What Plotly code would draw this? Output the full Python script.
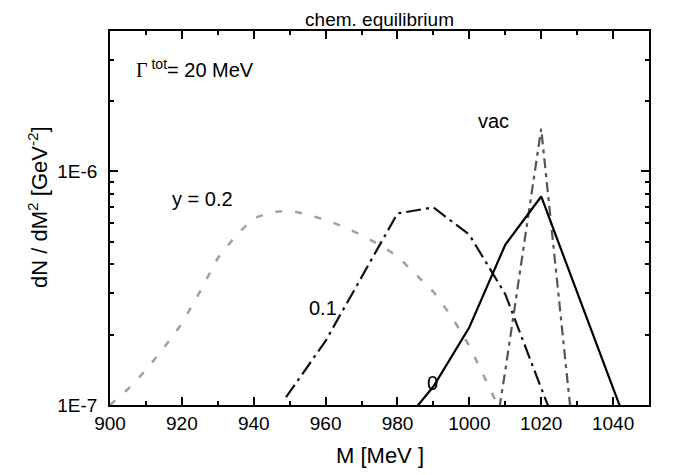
import plotly.graph_objects as go

# curve y = 0 (solid)
m_0 = [980, 990, 1000, 1010, 1020, 1030, 1040, 1050]
dn_0 = [7.8e-8, 1.2e-7, 2.15e-7, 4.85e-7, 7.8e-7, 3.05e-7, 1.2e-7, 4.6e-8]

# curve y = 0.1 (dash-dot)
m_01 = [949, 960, 980, 990, 1000, 1010, 1020, 1030]
dn_01 = [1.08e-7, 1.88e-7, 6.6e-7, 7.0e-7, 5.35e-7, 2.98e-7, 1.18e-7, 4.8e-8]

# curve y = 0.2 (gray short dash)
m_02 = [900, 905, 910, 915, 920, 925, 930, 935, 940, 945, 950, 955, 960,
        965, 970, 975, 980, 985, 990, 995, 1000, 1005, 1010]
dn_02 = [1.0e-7, 1.17e-7, 1.41e-7, 1.76e-7, 2.23e-7, 3.05e-7, 4.25e-7, 5.3e-7,
         6.3e-7, 6.68e-7, 6.79e-7, 6.53e-7, 6.19e-7, 5.79e-7, 5.33e-7, 4.85e-7,
         4.33e-7, 3.65e-7, 3.05e-7, 2.4e-7, 1.79e-7, 1.24e-7, 8.5e-8]

# vacuum
m_vac = [1000, 1010, 1020, 1030]
dn_vac = [1.5e-8, 1.4e-7, 1.52e-6, 5.1e-8]

xtick_major = [900, 920, 940, 960, 980, 1000, 1020, 1040]
xtick_minor = [910, 930, 950, 970, 990, 1010, 1030, 1050]
ytick_major = [1e-7, 1e-6]
ytick_labels = ["1E-7", "1E-6"]
ytick_minor = [2e-7, 3e-7, 4e-7, 5e-7, 6e-7, 7e-7, 8e-7, 9e-7, 2e-6, 3e-6]

FONT = "Arial, Liberation Sans, sans-serif"

fig = go.Figure()

fig.add_trace(go.Scatter(x=m_02, y=dn_02, mode="lines",
                         line=dict(color="#a0a0a0", width=2.5, dash="7px,13px")))
fig.add_trace(go.Scatter(x=m_01, y=dn_01, mode="lines",
                         line=dict(color="#111111", width=2.2, dash="15px,5px,3px,5px")))
fig.add_trace(go.Scatter(x=m_vac, y=dn_vac, mode="lines",
                         line=dict(color="#555555", width=2.2, dash="10px,5px,4px,5px")))
fig.add_trace(go.Scatter(x=m_0, y=dn_0, mode="lines",
                         line=dict(color="black", width=2.2)))

axis_common = dict(
    showline=True, linecolor="black", linewidth=1.5, mirror="allticks",
    ticks="inside", ticklen=8, tickwidth=1.5, tickcolor="black",
    showgrid=False, zeroline=False,
    tickfont=dict(family=FONT, size=19, color="black"),
)

fig.update_xaxes(range=[900, 1050], tickmode="array", tickvals=xtick_major,
                 minor=dict(tickmode="array", tickvals=xtick_minor, ticks="inside",
                            ticklen=4, tickwidth=1.5, tickcolor="black", showgrid=False),
                 **axis_common)
fig.update_yaxes(type="log", range=[-7, -5.4], tickmode="array",
                 tickvals=ytick_major, ticktext=ytick_labels, ticklabelstandoff=7,
                 minor=dict(tickmode="array", tickvals=ytick_minor, ticks="inside",
                            ticklen=4, tickwidth=1.5, tickcolor="black", showgrid=False),
                 **axis_common)

def label(text, x, y, size=20, xanchor="center", **kw):
    fig.add_annotation(text=text, x=x, y=y, xref="paper", yref="paper",
                       xanchor=xanchor, yanchor="middle", showarrow=False,
                       font=dict(family=FONT, size=size, color="black"), **kw)

label("M [MeV ]", 0.5, -0.134, size=22)
label("dN / dM<sup>2</sup> [GeV<sup>-2</sup>]", -0.134, 0.529, size=22, textangle=-90)
label("<span style='font-family:Liberation Serif, Times New Roman, serif'>Γ</span>"
      "<sup> tot</sup>= 20 MeV", 0.044, 0.901, xanchor="left")
label("vac", 0.7106, 0.759)
label("y = 0.2", 0.1725, 0.551)
label("0.1", 0.395, 0.259)
label("0", 0.599, 0.059)

# page body adds an 8px margin, so the figure is 8px smaller than the window
fig.update_layout(
    width=667, height=467,
    margin=dict(l=102, r=26, t=23, b=70),
    paper_bgcolor="white", plot_bgcolor="white",
    showlegend=False,
    title=dict(text="chem. equilibrium", x=0.557, y=0.976, xanchor="center",
               yanchor="middle", font=dict(family=FONT, size=19, color="black")),
)

fig.write_html("out.html")
